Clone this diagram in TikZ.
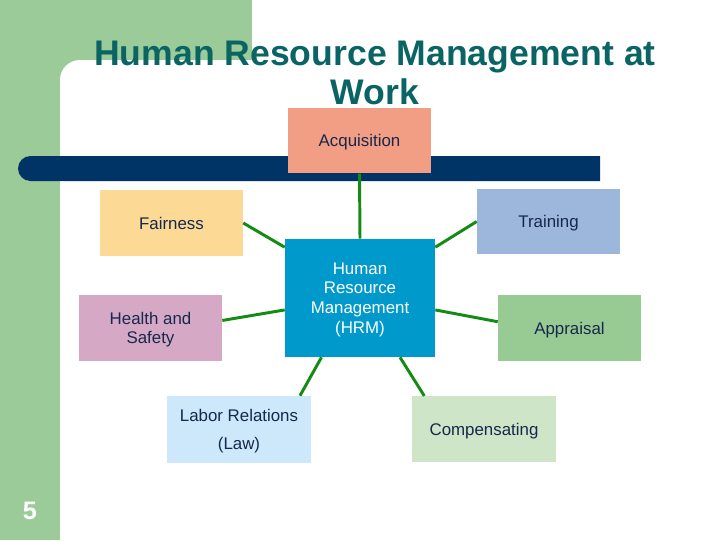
\documentclass[tikz,border=0pt]{standalone}
\usepackage{fontspec}
\setmainfont{Liberation Sans}
\usepackage{xcolor}

\definecolor{sidegreen}{RGB}{155,203,152}
\definecolor{barblue}{RGB}{0,51,102}
\definecolor{titleteal}{RGB}{10,100,100}
\definecolor{textnavy}{RGB}{22,40,75}
\definecolor{linkgreen}{RGB}{20,140,20}
\definecolor{acqfill}{RGB}{242,158,132}
\definecolor{fairfill}{RGB}{253,217,150}
\definecolor{trainfill}{RGB}{157,182,219}
\definecolor{hrmfill}{RGB}{0,153,204}
\definecolor{healthfill}{RGB}{213,169,198}
\definecolor{apprfill}{RGB}{152,203,148}
\definecolor{laborfill}{RGB}{204,232,250}
\definecolor{compfill}{RGB}{207,229,200}

\tikzset{
    area/.style={rectangle, align=center, text=textnavy, inner sep=0pt,
        minimum width=3.575cm, minimum height=1.64cm, text depth=0pt,
        font=\fontsize{12}{14}\selectfont},
    link/.style={linkgreen, line width=2.1pt},
}

\begin{document}
\begin{tikzpicture}[x=0.025cm, y=-0.025cm]
    \useasboundingbox (0, 0) rectangle (720, 540);

    % background
    \fill[sidegreen] (0, 0) rectangle (252, 80);
    \fill[sidegreen] (0, 0) rectangle (60, 540);
    \fill[white, rounded corners=0.5cm] (60, 540) |- (720, 60) -- (720, 540) -- cycle;
    \fill[barblue, rounded corners=0.3125cm] (600, 181) -- (18, 181) -- (18, 156) -- (600, 156);

    \node[align=center, text=titleteal, font=\bfseries\fontsize{25.3}{27.6}\selectfont, anchor=base] at (375, 104) (title) {Human Resource Management at\\Work};
    \node[text=white, font=\bfseries\fontsize{18}{20}\selectfont] at (30, 511) (page) {5};

    \node[area, fill=acqfill] at (359.5, 140.5) (acq) {Acquisition};
    \node[area, fill=fairfill] at (171.5, 223) (fair) {Fairness};
    \node[area, fill=trainfill] at (548.5, 221.5) (train) {Training};
    \node[area, fill=hrmfill, text=white, minimum width=3.75cm, minimum height=2.95cm] at (360, 298) (hrm) {Human\\Resource\\Management\\(HRM)};
    \node[area, fill=healthfill] at (150.5, 328) (health) {Health and\\Safety};
    \node[area, fill=apprfill] at (569.5, 328) (appr) {Appraisal};
    \node[area, fill=laborfill, minimum width=3.6cm, minimum height=1.675cm, font=\fontsize{12}{20}\selectfont] at (239, 429.5) (labor) {Labor Relations\\(Law)};
    \node[area, fill=compfill, minimum width=3.6cm] at (484, 429) (comp) {Compensating};

    \draw[link] (acq.south) edge (hrm.north);
    \draw[link] (fair.east) edge (hrm.146);
    \draw[link] (train.west) edge (hrm.34);
    \draw[link] (health.6) edge (hrm.189);
    \draw[link] (appr.175) edge (hrm.351);
    \draw[link] (labor.29) edge (hrm.237);
    \draw[link] (comp.151) edge (hrm.304);
\end{tikzpicture}
\end{document}
